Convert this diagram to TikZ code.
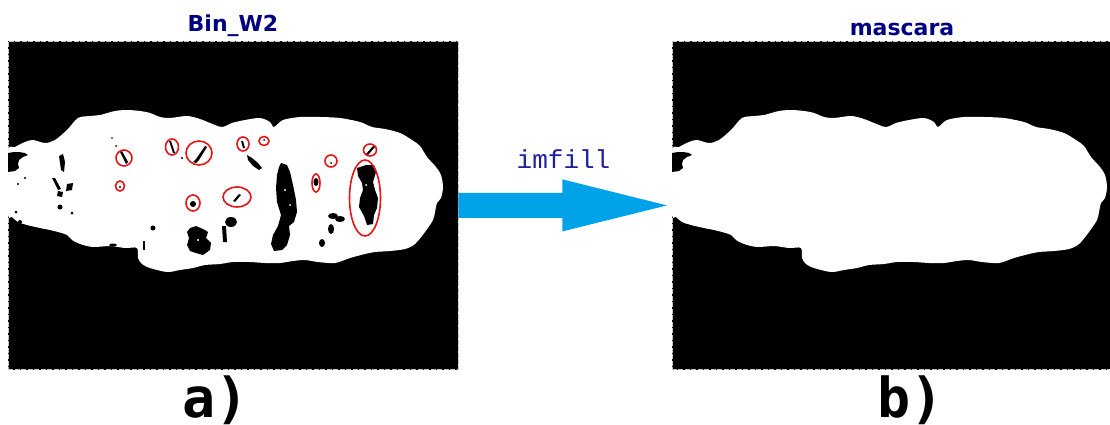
\documentclass[tikz,border=0pt]{standalone}
\usepackage{fontspec}
\usetikzlibrary{calc}
\newfontfamily\titlefont{DejaVu Sans}
\newfontfamily\labfont{DejaVu Sans Mono}
\newfontfamily\codefont{Liberation Mono}
\definecolor{navy}{RGB}{0,0,128}
\definecolor{codeblue}{RGB}{30,30,160}
\definecolor{arrowblue}{RGB}{0,162,232}
\definecolor{ringred}{RGB}{230,20,20}
\tikzset{
  panel/.style={draw=gray!45, dash pattern=on 5pt off 1.5pt, fill=black, line width=0.9pt, inner sep=0pt, anchor=north west},
  titletext/.style={font=\titlefont\bfseries\fontsize{22}{24}\selectfont, text=navy, anchor=base, inner sep=0pt},
  captext/.style={font=\labfont\bfseries\fontsize{55}{60}\selectfont, text=black, anchor=base west, inner sep=0pt},
  codetext/.style={font=\codefont\fontsize{26}{28}\selectfont, text=codeblue, anchor=base, inner sep=0pt},
  ring/.style={draw=ringred, line width=1.6pt},
  spot/.style={fill=black},
  pics/blob/.style={code={
    \fill[white] plot[smooth cycle, tension=0.5] coordinates {
      (8,152) (15,147) (25,142) (33,140) (45,143) (55,140) (67,130) (78,118) (90,116)
      (100,115) (115,111) (127,110) (140,111) (150,113) (160,117) (170,118) (187,116)
      (200,119) (210,123) (222,127) (232,123) (245,120) (260,118) (270,122) (274,127)
      (283,120) (300,117) (320,117) (340,118) (360,122) (372,127) (385,129) (400,133)
      (412,140) (420,146) (427,157) (436,167) (441,175) (443,187) (441,198) (437,203)
      (435,212) (433,220) (425,232) (415,244) (405,249) (390,251) (375,252) (365,254)
      (350,258) (335,263) (318,262) (305,260) (293,261) (280,263) (265,263) (250,262)
      (233,262) (220,264) (205,265) (193,268) (180,270) (167,272) (150,268) (142,264)
      (138,258) (137,248) (125,248) (110,246) (93,247) (80,244) (72,240) (67,235)
      (58,232) (50,230) (40,228) (27,225) (18,222) (12,217) (8,213)};
    \fill[black] (8,153) -- (14,152) -- (19,152) -- (25,153) -- (28,155) -- (23,157)
      -- (19,160) -- (18,164) -- (19,168) -- (15,171) -- (8,172) -- cycle;
  }}
}
\begin{document}
\begin{tikzpicture}[x=1pt,y=-1pt]
\useasboundingbox (0,0) rectangle (1110,425);
\fill[white] (0,0) rectangle (1110,425);
\clip (0,0) rectangle (1110,425);

% panels
\node[panel, minimum width=449.5pt, minimum height=328.5pt] (pa) at (8,40.7) {};
\node[panel, minimum width=449.5pt, minimum height=328.5pt] (pb) at (671.5,40.7) {};

% white shapes
\pic at (0,0) {blob};
\pic at (664,0) {blob};

% black spots in Bin_W2
\fill[spot] (281,163) -- (287,165) -- (290,172) -- (293,185) -- (296,200) -- (297,212)
  -- (294,222) -- (289,226) -- (290,235) -- (287,245) -- (282,250) -- (274,251)
  -- (271,244) -- (273,235) -- (278,226) -- (281,215) -- (277,202) -- (276,188)
  -- (277,175) -- (279,167) -- cycle;
\fill[spot] (190,228) -- (196,226) -- (203,229) -- (208,232) -- (206,238) -- (211,243)
  -- (210,250) -- (203,255) -- (196,253) -- (190,251) -- (187,245) -- (189,238)
  -- (187,232) -- cycle;
\fill[spot] (357,168) -- (366,165) -- (374,165) -- (376,172) -- (373,182) -- (375,190)
  -- (378,198) -- (377,208) -- (374,215) -- (373,224) -- (367,225) -- (364,216)
  -- (359,207) -- (360,198) -- (363,190) -- (362,183) -- (358,176) -- cycle;
\fill[spot] (231,222) ellipse [x radius=6, y radius=5];
\fill[spot] (222,226) -- (226,226) -- (227,242) -- (223,242) -- cycle;
\fill[spot] (247,155) -- (252,158) -- (258,163) -- (262,168) -- (259,170) -- (253,166) -- (248,160) -- cycle;
\fill[spot] (333,216) ellipse [x radius=5, y radius=3];
\fill[spot] (340,219) ellipse [x radius=5, y radius=3];
\fill[spot] (331,229) ellipse [x radius=3, y radius=5];
\fill[spot] (322,243) ellipse [x radius=3, y radius=4];
\fill[spot] (59,156) -- (63,154) -- (65,162) -- (64,172) -- (61,170) -- (60,163) -- cycle;
\fill[spot] (52,178) -- (55,178) -- (61,189) -- (58,190) -- cycle;
\fill[spot] (67,184) -- (73,183) -- (72,190) -- (66,191) -- cycle;
\fill[spot] (58,191) -- (63,192) -- (62,197) -- (57,196) -- cycle;
\fill[spot] (60,207) circle [radius=2.5];
\fill[spot] (72,213) circle [radius=1.5];
\fill[spot] (113,245) ellipse [x radius=4, y radius=1.5];
\fill[spot] (153,228) circle [radius=2.5];
\fill[spot] (143,241) -- (145,241) -- (145,250) -- (143,250) -- cycle;
\fill[spot] (25,178) circle [radius=1.2];
\fill[spot] (18,184) circle [radius=1.2];
\fill[spot] (16,212) circle [radius=1.5];
\fill[spot] (20,222) circle [radius=2];
% small marks inside circles
\fill[spot] (120,152) -- (122,151) -- (128,162) -- (126,164) -- cycle;
\fill[spot] (112,138) circle [radius=0.8];
\fill[spot] (116,146) circle [radius=1];
\fill[spot] (169,141) -- (171,141) -- (175,153) -- (173,153) -- cycle;
\fill[spot] (193,162) -- (196,159) -- (205,146) -- (207,147) -- (199,160) -- (196,163) -- cycle;
\fill[spot] (182,158) circle [radius=1.2];
\fill[spot] (241,141) -- (243,141) -- (245,148) -- (243,148) -- cycle;
\fill[spot] (264,140) circle [radius=1];
\fill[spot] (120,187) circle [radius=1.2];
\fill[spot] (193,204) circle [radius=3];
\fill[spot] (233,201) -- (239,194) -- (241,195) -- (235,202) -- cycle;
\fill[spot] (331,163) circle [radius=1];
\fill[spot] (316,182) ellipse [x radius=2.5, y radius=4];
\fill[spot] (366,154) -- (373,146) -- (375,147) -- (368,155) -- cycle;
% white specks
\fill[white] (285,190) circle [radius=1.2];
\fill[white] (290,205) circle [radius=1];
\fill[white] (366,185) circle [radius=1];
\fill[white] (198,240) circle [radius=1.2];

% red rings
\draw[ring] (124,158) ellipse [x radius=8, y radius=8];
\draw[ring] (172,147) ellipse [x radius=6.5, y radius=8];
\draw[ring] (199,153) ellipse [x radius=13, y radius=12];
\draw[ring] (243,144) ellipse [x radius=6, y radius=7];
\draw[ring] (264,141) ellipse [x radius=5, y radius=4.5];
\draw[ring] (120,186) ellipse [x radius=4.5, y radius=5];
\draw[ring] (193,203) ellipse [x radius=7, y radius=8];
\draw[ring] (237,197) ellipse [x radius=14, y radius=10];
\draw[ring] (331,161) ellipse [x radius=6, y radius=6];
\draw[ring] (316,183) ellipse [x radius=4, y radius=9];
\draw[ring] (370,150) ellipse [x radius=6.5, y radius=6];
\draw[ring] (365,198) ellipse [x radius=15.5, y radius=38];

% arrow
\fill[arrowblue] ($(pa.east)+(0,-12.5)$) -- ++(104,0) -- ++(0,-13.5)
  -- ($(pb.west)+(-4.5,0)$) -- ($(pa.east)+(104,26)$) -- ++(0,-13.5)
  -- ($(pa.east)+(0,12.5)$) -- cycle;
\node[codetext] (op) at (563.5,168) {imfill};

% titles and captions
\node[titletext] (ta) at (233,31.5) {Bin\_W2};
\node[titletext] (tb) at (902,36) {mascara};
\node[captext] (ca) at (182,417) {a)};
\node[captext] (cb) at (877,417) {b)};
\end{tikzpicture}
\end{document}
